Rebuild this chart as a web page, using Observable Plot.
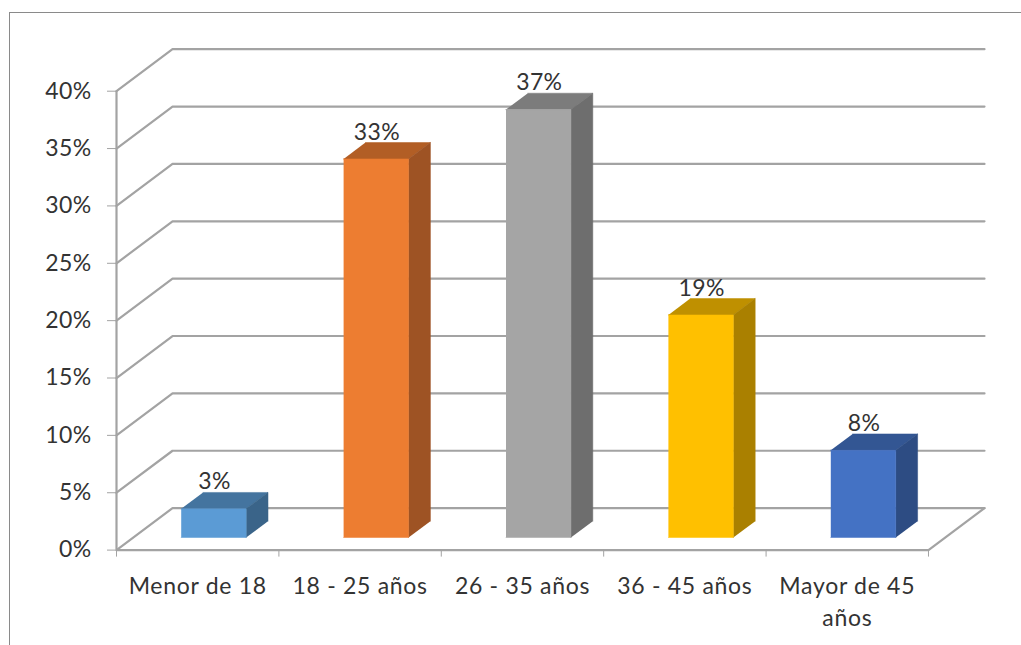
<!DOCTYPE html>
<html>
<head>
<meta charset="utf-8">
<script src="https://cdn.jsdelivr.net/npm/d3@7"></script>
<script src="https://cdn.jsdelivr.net/npm/@observablehq/plot@0.6"></script>
<style>
  html, body { margin: 0; padding: 0; background: #fff; overflow: hidden; }
  #frame { position: absolute; left: 9px; top: 12px; right: 0; bottom: 0; border-top: 1.5px solid #8a8a8a; border-left: 1.5px solid #8a8a8a; }
  #chart { position: absolute; left: 0; top: 0; }
  svg { display: block; }
  .num text, .num { letter-spacing: 0.4px; }
  .cat text, .cat { letter-spacing: 0.7px; }
</style>
</head>
<body>
<div id="frame"></div>
<div id="chart"></div>
<script>
const categories = ["Menor de 18", "18 - 25 años", "26 - 35 años", "36 - 45 años", "Mayor de 45\naños"];
const values = [2.5, 33, 37.3, 19.4, 7.6];
const valueLabels = ["3%", "33%", "37%", "19%", "8%"];
const yTicks = [0, 5, 10, 15, 20, 25, 30, 35, 40];
const frontColors = ["#5B9BD5", "#ED7D31", "#A5A5A5", "#FFC000", "#4472C4"];
const topColors = ["#44749F", "#B25E25", "#7C7C7C", "#BF9000", "#335693"];
const sideColors = ["#3A6489", "#9E5324", "#6E6E6E", "#AA8000", "#2D4C83"];

// oblique projection: a unit of depth moves a point along x and y (in data units)
const depthX = 0.345, depthY = 3.66;
const project = (x, v, z) => ({x: x + z * depthX, y: v + z * depthY});
const barStart = 0.295, barWidth = 0.4, zFront = 0.3, zBack = 0.69;

const n = categories.length;
const wallLines = yTicks.flatMap(v => [
  {id: v, ...project(0, v, 0)},
  {id: v, ...project(0, v, 1)},
  {id: v, ...project(n, v, 1)}
]);
const floorEdge = [project(n, 0, 0), project(n, 0, 1)];

const faces = values.flatMap((v, i) => {
  const a = i + barStart, b = a + barWidth;
  const poly = (id, color, pts) => pts.map(p => ({id, color, ...project(...p)}));
  return [
    ...poly(`t${i}`, topColors[i], [[a, v, zFront], [b, v, zFront], [b, v, zBack], [a, v, zBack]]),
    ...poly(`s${i}`, sideColors[i], [[b, 0, zFront], [b, v, zFront], [b, v, zBack], [b, 0, zBack]]),
    ...poly(`f${i}`, frontColors[i], [[a, 0, zFront], [b, 0, zFront], [b, v, zFront], [a, v, zFront]])
  ];
});

const gridColor = "#a3a3a3", inkColor = "#333333";

const plot = Plot.plot({
  width: 1021, height: 645,
  marginLeft: 116, marginRight: 37, marginTop: 48.7, marginBottom: 95.4,
  style: {fontFamily: "Lato, 'Open Sans', sans-serif", fontSize: "23px", background: "transparent", color: inkColor},
  x: {domain: [0, n + depthX]},
  y: {domain: [0, 40 + depthY]},
  marks: [
    Plot.line(wallLines, {x: "x", y: "y", z: "id", stroke: gridColor, strokeWidth: 2.2, curve: "linear"}),
    Plot.line(floorEdge, {x: "x", y: "y", stroke: gridColor, strokeWidth: 2.2}),
    Plot.ruleY([0], {x1: 0, x2: n, stroke: gridColor, strokeWidth: 2.2}),
    Plot.ruleX([0], {y1: 0, y2: 40, stroke: gridColor, strokeWidth: 2.2}),
    Plot.axisY({ticks: yTicks, tickFormat: d => d + "%", tickSize: 9, tickPadding: 16, stroke: gridColor, fill: inkColor, label: null, className: "num"}),
    Plot.axisX({ticks: d3.range(n + 1), tickFormat: () => "", tickSize: 7, stroke: gridColor, label: null}),
    Plot.line(faces, {x: "x", y: "y", z: "id", fill: "color", stroke: "color", strokeWidth: 0.5}),
    Plot.text(categories, {
      x: (d, i) => i + 0.5, y: 0, text: d => d,
      lineAnchor: "top", dy: 20.5, lineHeight: 1.41, fill: inkColor, className: "cat"
    }),
    Plot.text(values, {
      x: (d, i) => i + 0.5 + zFront * depthX, y: (d) => d + zBack * depthY, text: (d, i) => valueLabels[i],
      lineAnchor: "bottom", dy: -3, fill: inkColor, className: "num"
    })
  ]
});
document.getElementById("chart").appendChild(plot);
</script>
</body>
</html>
